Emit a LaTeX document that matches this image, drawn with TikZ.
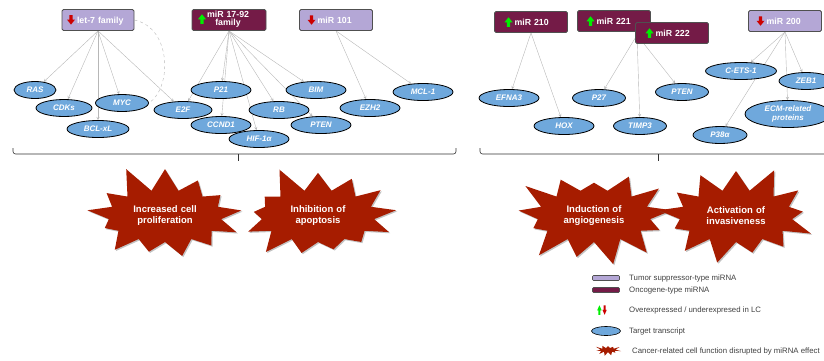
\documentclass[tikz,border=0pt]{standalone}
\usepackage{fontspec}
\setmainfont{Liberation Sans}
\usepackage{tikz}
\usetikzlibrary{positioning}
\usetikzlibrary{shapes, arrows, shadows, backgrounds}

\definecolor{supcol}{HTML}{B4A7D6}
\definecolor{oncocol}{HTML}{741B47}
\definecolor{tgtcol}{HTML}{6FA8DC}
\definecolor{burstcol}{HTML}{A61C00}
\definecolor{upgreen}{HTML}{00EE00}
\definecolor{downred}{HTML}{CC0000}
\definecolor{edgegray}{HTML}{B7B7B7}
\definecolor{boxline}{HTML}{505050}

\newcommand{\upicon}[1][1]{\tikz[x=#1pt,y=1pt,baseline=1.5pt,sharp corners]\fill[upgreen, draw=none] (-1.7,0) -- (1.7,0) -- (1.7,4.5) -- (4,4.5) -- (0,9.5) -- (-4,4.5) -- (-1.7,4.5) -- cycle;}
\newcommand{\downicon}[1][1]{\tikz[x=#1pt,y=1pt,baseline=1.5pt,sharp corners]\fill[downred, draw=none] (-1.7,9.5) -- (1.7,9.5) -- (1.7,5) -- (4,5) -- (0,0) -- (-4,5) -- (-1.7,5) -- cycle;}

\begin{document}
\begin{tikzpicture}[x=1pt, y=-1pt,
    supbox/.style={rectangle, rounded corners=1.5pt, draw=boxline, thick,
      fill=supcol, text=white, font=\fontsize{8.8pt}{9.5pt}\selectfont\bfseries,
      text width=57pt, inner xsep=8pt, inner ysep=1pt, minimum height=21pt, align=left},
    oncbox/.style={supbox, fill=oncocol},
    target/.style={ellipse, draw=black, thick, fill=tgtcol, text=white,
      font=\fontsize{8pt}{9pt}\selectfont\bfseries\itshape, inner sep=0pt,
      minimum width=60pt, minimum height=17pt, align=center},
    burst/.style={starburst, fill=burstcol, text=white, starburst points=13,
      starburst point height=28pt, random starburst=11, inner sep=0pt,
      minimum width=118pt, minimum height=108pt, text width=80pt, align=center,
      font=\fontsize{9.5pt}{11pt}\selectfont\bfseries,
      drop shadow={shadow xshift=1.2pt, shadow yshift=-1.2pt, opacity=0.4, fill=black!60}},
    edge/.style={->, >=stealth, draw=edgegray, thin},
    brace/.style={draw=black!80, semithick, rounded corners=2.5pt},
    legtext/.style={text=black!75, font=\fontsize{7.8pt}{9pt}\selectfont, inner sep=0pt, anchor=west}]
    \clip (0,0) rectangle (824,360);

    \node[supbox, inner xsep=5pt, text width=62pt] (let7) at (98,20) {\downicon\hspace{2pt}let-7 family};
    \node[oncbox, inner xsep=6pt, text width=62pt] (mir1792) at (229,20) {\upicon\hspace{1pt}\begin{tabular}[c]{@{}c@{}}miR 17-92\\[-1.5pt]family\end{tabular}};
    \node[supbox] (mir101) at (336,20) {\downicon\hspace{2pt}miR 101};
    \node[oncbox, inner xsep=10pt, text width=53pt] (mir210) at (531,22) {\upicon\hspace{2pt}miR 210};
    \node[oncbox, inner xsep=9pt, text width=55pt] (mir221) at (614,21) {\upicon\hspace{2pt}miR 221};
    \node[oncbox, inner xsep=10pt, text width=53pt] (mir222) at (672,33) {\upicon\hspace{2pt}miR 222};
    \node[supbox] (mir200) at (785,21) {\downicon\hspace{2pt}miR 200};
    \coordinate (m2122) at (637,35);

    \node[target, minimum width=42pt] (ras) at (35,90) {RAS};
    \node[target, minimum width=56pt] (cdks) at (64,108) {CDKs};
    \node[target, minimum width=62pt] (bclxl) at (98,129) {BCL-xL};
    \node[target, minimum width=53pt] (myc) at (122,103) {MYC};
    \node[target, minimum width=58pt] (e2f) at (183,110) {E2F};
    \node[target] (p21) at (221,90) {P21};
    \node[target] (ccnd1) at (221,125) {CCND1};
    \node[target] (hif) at (259,139) {HIF-1α};
    \node[target] (rb) at (279,110) {RB};
    \node[target] (bim) at (316,90) {BIM};
    \node[target] (pten) at (321,125) {PTEN};
    \node[target] (ezh2) at (370,108) {EZH2};
    \node[target] (mcl1) at (423,92) {MCL-1};
    \node[target] (efna3) at (509,98) {EFNA3};
    \node[target] (hox) at (564,126) {HOX};
    \node[target, minimum width=53pt] (p27) at (599,98) {P27};
    \node[target, minimum width=53pt] (timp3) at (640,126) {TIMP3};
    \node[target, minimum width=53pt] (pten2) at (682,92) {PTEN};
    \node[target, minimum width=71pt] (cets1) at (741,71) {C-ETS-1};
    \node[target, minimum width=54pt] (zeb1) at (806,81) {ZEB1};
    \node[target, minimum width=86pt, minimum height=27pt] (ecm) at (788,114) {ECM-related\\proteins};
    \node[target, minimum width=54pt] (p38) at (720,135) {P38α};

    \begin{scope}[on background layer]
    \draw[edge] (let7.south) -- (ras);
    \draw[edge] (let7.south) -- (cdks);
    \draw[edge] (let7.south) -- (bclxl);
    \draw[edge] (let7.south) -- (myc);
    \draw[edge] (let7.south) -- (e2f);
    \draw[edge] (mir1792.south) -- (e2f);
    \draw[edge] (mir1792.south) -- (p21);
    \draw[edge] (mir1792.south) -- (ccnd1);
    \draw[edge] (mir1792.south) -- (hif);
    \draw[edge] (mir1792.south) -- (rb);
    \draw[edge] (mir1792.south) -- (bim);
    \draw[edge] (mir1792.south) -- (pten);
    \draw[edge] (mir101.south) -- (ezh2);
    \draw[edge] (mir101.south) -- (mcl1);
    \draw[edge] (mir210.south) -- (efna3);
    \draw[edge] (mir210.south) -- (hox);
    \draw[edge] (m2122) -- (p27);
    \draw[edge] (m2122) -- (timp3);
    \draw[edge] (m2122) -- (pten2);
    \draw[edge] (mir200.south) -- (cets1);
    \draw[edge] (mir200.south) -- (zeb1);
    \draw[edge] (mir200.south) -- (ecm);
    \draw[edge] (mir200.south) -- (p38);
    \draw[draw=edgegray, dashed] (let7.east) .. controls (172,28) and (172,88) .. (myc.east);
    \end{scope}

    \draw[brace] (13,148) -- (13,154) -- (456,154) -- (456,148);
    \draw[brace] (238,154) -- (238,161);
    \draw[brace] (480,148) -- (480,154) -- (830,154);
    \draw[brace] (658,154) -- (658,161);

    \node[burst] (prolif) at (165,216) {Increased cell\\proliferation};
    \node[burst, random starburst=5] (apopt) at (318,216) {Inhibition of\\apoptosis};
    \node[burst, random starburst=23] (angio) at (594,216) {Induction of\\angiogenesis};
    \node[burst, random starburst=8] (invas) at (736,216) {Activation of\\invasiveness};

    \node[supbox, text width=27pt, inner xsep=0pt, minimum height=5pt, inner ysep=0pt, rounded corners=1pt, semithick] (legsup) at (606,278) {};
    \node[oncbox, text width=27pt, inner xsep=0pt, minimum height=5pt, inner ysep=0pt, rounded corners=1pt, semithick] (legonc) at (606,290) {};
    \node[inner sep=0pt] (legarr) at (602,310) {\upicon[0.55]\hspace{0.8pt}\downicon[0.55]};
    \node[target, minimum width=29pt, minimum height=9pt, semithick] (legtgt) at (606,331) {};
    \node[starburst, fill=burstcol, starburst points=11, starburst point height=6pt,
      random starburst=3, minimum width=27pt, minimum height=16pt, inner sep=0pt] (legburst) at (608,350) {};
    \node[legtext] (legsuptxt) at (629,278) {Tumor suppressor-type miRNA};
    \node[legtext] (legonctxt) at (629,290) {Oncogene-type miRNA};
    \node[legtext] (legarrtxt) at (629,310) {Overexpressed / underexpresed in LC};
    \node[legtext] (legtgttxt) at (629,331) {Target transcript};
    \node[legtext] (legbursttxt) at (632,351) {Cancer-related cell function disrupted by miRNA effect};
  \end{tikzpicture}
\end{document}
